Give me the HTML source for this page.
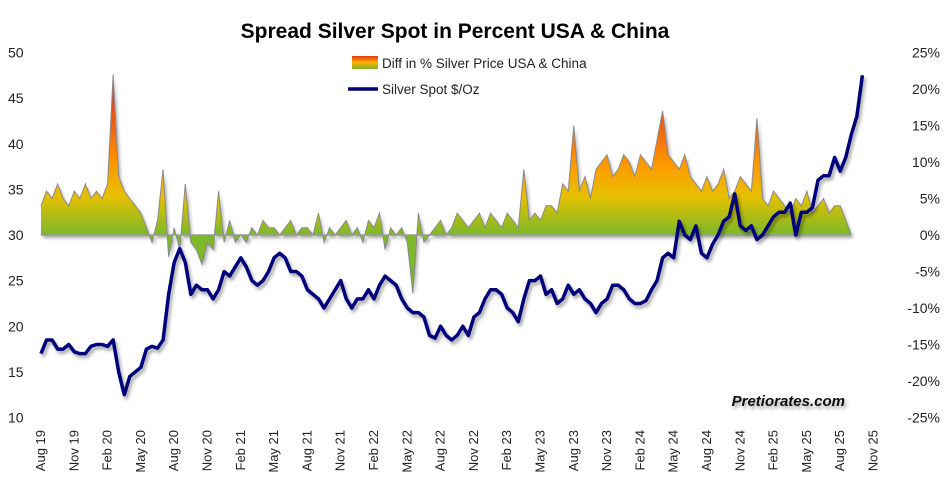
<!DOCTYPE html>
<html><head><meta charset="utf-8"><style>
body{margin:0;background:#fff}
svg{display:block;font-family:"Liberation Sans",Arial,sans-serif}
</style></head><body>
<svg id="chart" width="945" height="498" viewBox="0 0 945 498">
<defs>
<linearGradient id="fillGrad" gradientUnits="userSpaceOnUse" x1="0" y1="235" x2="0" y2="60">
<stop offset="0" stop-color="#7cb82a"/>
<stop offset="0.22" stop-color="#e6c000"/>
<stop offset="0.4" stop-color="#ff9a00"/>
<stop offset="0.65" stop-color="#f05a10"/>
<stop offset="1" stop-color="#d02020"/>
</linearGradient>
<linearGradient id="legGrad" x1="0" y1="1" x2="0" y2="0">
<stop offset="0" stop-color="#7cb82a"/><stop offset="0.5" stop-color="#ffb000"/><stop offset="1" stop-color="#e03a10"/>
</linearGradient>
<filter id="shadow" x="-5%" y="-5%" width="110%" height="115%">
<feDropShadow dx="2" dy="3" stdDeviation="1.5" flood-color="#000" flood-opacity="0.35"/>
</filter>
</defs>
<text x="455" y="38" text-anchor="middle" font-size="21" font-weight="bold" fill="#000">Spread Silver Spot in Percent USA &amp; China</text>
<g>
<rect x="352" y="56" width="26" height="13" fill="url(#legGrad)"/>
<text x="382" y="68" font-size="13.5" fill="#222">Diff in % Silver Price USA &amp; China</text>
<line x1="348" y1="89" x2="378" y2="89" stroke="#00007a" stroke-width="3.5"/>
<text x="382" y="94" font-size="13.5" fill="#222">Silver Spot  $/Oz</text>
</g>
<g id="leftAxis"></g>
<g id="rightAxis"></g>
<g id="xAxis"></g>
<g id="plot"></g>
<text x="845" y="406" text-anchor="end" font-size="15" font-weight="bold" font-style="italic" fill="#111" filter="url(#shadow)">Pretiorates.com</text>
</svg>
<script>
const leftTicks=[10,15,20,25,30,35,40,45,50];
const rightTicks=[-25,-20,-15,-10,-5,0,5,10,15,20,25];
const xLabels=["Aug 19","Nov 19","Feb 20","May 20","Aug 20","Nov 20","Feb 21","May 21","Aug 21","Nov 21","Feb 22","May 22","Aug 22","Nov 22","Feb 23","May 23","Aug 23","Nov 23","Feb 24","May 24","Aug 24","Nov 24","Feb 25","May 25","Aug 25","Nov 25"];
// semi-monthly, starting Aug 2019
const silver=[17,18.5,18.5,17.5,17.5,18,17.2,17,17,17.8,
18,18,17.8,18.5,15,12.5,14.5,15,15.5,17.5,17.8,17.6,18.5,23.5,27,28.5,27,23.5,24.5,24,24,23,24,26,
25.5,26.5,27.5,26.5,25,24.5,25,26,27.5,28,27.5,26,26,25.5,24,23.5,23,22,23,24,25,23,22,23,
23,24,23,24.5,25.5,25,24.5,23,22,21.5,21.5,21,19,18.7,20,19,18.5,19,20,19,21,21.5,23,24,
24,23.5,22,21.5,20.5,23,25,25,25.5,23.5,24,22.5,23,24.5,23.5,24,23,22.5,21.5,22.5,23,24.5,24.5,24,
23,22.5,22.5,22.8,24,25,27.5,28,27.5,31.5,30,29.5,31,28,27.5,29,30,31.5,32,34.5,31,30.5,31,29.5,
30,31,32,32.5,32.5,33.5,30,32.5,32.5,33,36,36.5,36.5,38.5,37,38.5,41,43,47.5];
const spread=[4,6,5,7,5,4,6,5,7,5,
6,5,7,22,8,6,5,4,3,1,-1,2,9,-3,1,-2,7,-1,-2,-4,-1,-2,
6,-1,2,-1,0,-1,1,0,2,1,1,0,1,2,0,1,1,0,3,-1,1,0,1,2,
0,1,-1,2,1,3,-2,1,0,1,-1,-8,3,-1,0,1,2,0,1,3,2,1,2,3,
1,3,2,1,3,2,1,9,2,3,2,4,4,3,7,6,15,6,8,5,9,10,11,8,
9,11,10,8,11,10,9,13,17,11,10,9,11,8,7,6,8,6,7,9,5,6,8,7,
6,16,5,4,6,5,4,3,5,4,6,3,4,5,3,4,4,2,0];
const NS="http://www.w3.org/2000/svg";
const x0=41, pxPerMonth=11.1;
function xScale(m){return x0+m*pxPerMonth;}
function yLeft(v){return 235-(v-30)*9.125;}
function yRight(p){return 235-p*7.3;}
function mk(tag,attrs,parent){const e=document.createElementNS(NS,tag);for(const k in attrs)e.setAttribute(k,attrs[k]);parent.appendChild(e);return e;}
const la=document.getElementById('leftAxis'),ra=document.getElementById('rightAxis'),xa=document.getElementById('xAxis'),plot=document.getElementById('plot');
leftTicks.forEach(v=>{const t=mk('text',{x:8,y:yLeft(v)+5,'font-size':14,fill:'#222'},la);t.textContent=v;

});
rightTicks.forEach(v=>{const t=mk('text',{x:940,y:yRight(v)+5,'font-size':14,fill:'#222','text-anchor':'end'},ra);t.textContent=v+'%';

});
xLabels.forEach((l,i)=>{const x=xScale(i*3)-1+5;const t=mk('text',{x:0,y:0,'font-size':13,fill:'#222','text-anchor':'end',transform:`translate(${x},430) rotate(-90)`},xa);t.textContent=l;

});
let d=`M${xScale(0)},${yRight(0)}`;let ld='';
spread.forEach((v,i)=>{const x=xScale(i*0.5),y=yRight(v);d+=` L${x},${y}`;ld+=(i?' L':'M')+x+','+y;});
d+=` L${xScale((spread.length-1)*0.5)},${yRight(0)} Z`;
const area=mk('path',{d:d,fill:'url(#fillGrad)',filter:'url(#shadow)'},plot);


const sl=mk('path',{d:ld,fill:'none',stroke:'#8a8a8a','stroke-width':1},plot);


const zl=mk('line',{x1:xScale(0),x2:xScale((spread.length-1)*0.5),y1:yRight(0),y2:yRight(0),stroke:'#999','stroke-width':1.5},plot);


let sd='';silver.forEach((v,i)=>{sd+=(i?' L':'M')+xScale(i*0.5)+','+yLeft(v);});
const line=mk('path',{d:sd,fill:'none',stroke:'#00007a','stroke-width':3.5,'stroke-linejoin':'round',filter:'url(#shadow)'},plot);


</script>
</body></html>
